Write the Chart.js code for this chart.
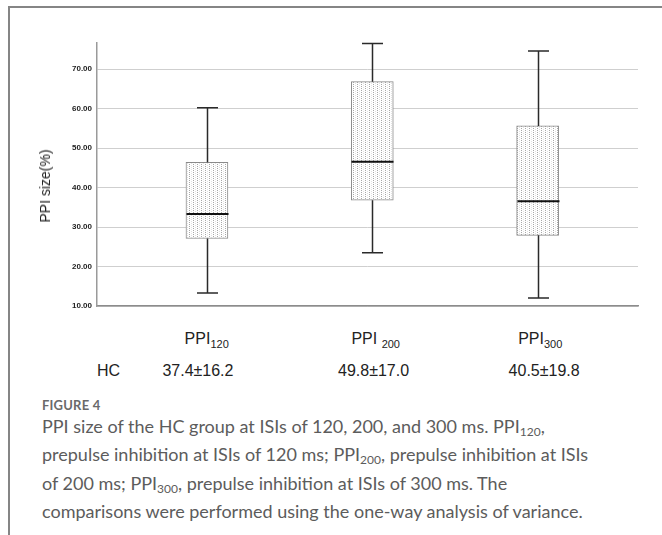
<!DOCTYPE html>
<html>
<head>
<meta charset="utf-8">
<script src="https://cdn.jsdelivr.net/npm/chart.js@4/dist/chart.umd.min.js"></script>
<style>
  html, body { margin:0; padding:0; background:#fff; }
  body { width:662px; height:535px; position:relative; overflow:hidden; }
  #frame { position:absolute; left:8px; top:6px; right:-10px; bottom:-10px; border-top:2px solid #858585; border-left:2px solid #858585; }
  #wrap { position:absolute; left:0; top:0; width:662px; height:320px; }
  .lbl { position:absolute; font-family:"Liberation Sans", Arial, sans-serif; font-size:16px; color:#222; white-space:nowrap; line-height:1; }
  .lbl sub { font-size:11px; vertical-align:baseline; position:relative; top:4px; line-height:0; }
  #ytitle { position:absolute; left:45px; top:186px; transform:translate(-50%,-50%) rotate(-90deg); font-family:"Liberation Sans", Arial, sans-serif; font-size:14px; color:#222; white-space:nowrap; }
  #figlabel { position:absolute; left:42px; top:397px; font-family:Lato, "Open Sans", sans-serif; font-weight:bold; font-size:13px; color:#6a6a6a; letter-spacing:0.2px; }
  #caption { position:absolute; left:42px; top:412px; font-family:Lato, "Open Sans", sans-serif; font-size:18px; line-height:28.3px; color:#5c5c5c; white-space:nowrap; }
  #caption sub { font-size:12px; vertical-align:baseline; position:relative; top:3px; line-height:0; }
</style>
</head>
<body>
<div id="frame"></div>
<div id="wrap"><canvas id="c" width="662" height="320"></canvas></div>
<div id="ytitle">PPI size(%)</div>
<div id="labels"></div>
<div id="figlabel">FIGURE 4</div>
<div id="caption">PPI size of the HC group at ISIs of 120, 200, and 300 ms. PPI<sub>120</sub>,<br>prepulse inhibition at ISIs of 120 ms; PPI<sub>200</sub>, prepulse inhibition at ISIs<br>of 200 ms; PPI<sub>300</sub>, prepulse inhibition at ISIs of 300 ms. The<br>comparisons were performed using the one-way analysis of variance.</div>
<script>
// ---- data ----
const categories = ['PPI120', 'PPI200', 'PPI300'];
const catBase = ['PPI', 'PPI ', 'PPI'];
const catSub = ['120', '200', '300'];
const whiskerMin = [13.3, 23.5, 12.0];
const q1 = [27.1, 36.8, 27.9];
const median = [33.3, 46.5, 36.5];
const q3 = [46.4, 66.8, 55.6];
const whiskerMax = [60.2, 76.5, 74.6];
const yTicks = [10, 20, 30, 40, 50, 60, 70];
const groupName = 'HC';
const meanSd = ['37.4±16.2', '49.8±17.0', '40.5±19.8'];

// ---- text labels below the plot ----
const labelsDiv = document.getElementById('labels');
const catX = [184.6, 351.4, 518.2];
const valX = [162.4, 338, 508.6];
categories.forEach((c, i) => {
  const d = document.createElement('div');
  d.className = 'lbl';
  d.style.left = catX[i] + 'px';
  d.style.top = '331px';
  d.innerHTML = catBase[i] + '<sub>' + catSub[i] + '</sub>';
  labelsDiv.appendChild(d);
  const v = document.createElement('div');
  v.className = 'lbl';
  v.style.left = valX[i] + 'px';
  v.style.top = '363px';
  v.textContent = meanSd[i];
  labelsDiv.appendChild(v);
});
const hc = document.createElement('div');
hc.className = 'lbl';
hc.style.left = '97px';
hc.style.top = '363px';
hc.textContent = groupName;
labelsDiv.appendChild(hc);

// ---- dotted box fill ----
function makePattern() {
  const c = document.createElement('canvas');
  c.width = 4; c.height = 2;
  const g = c.getContext('2d');
  g.fillStyle = '#ffffff'; g.fillRect(0, 0, 4, 2);
  g.fillStyle = '#a8a8a8'; g.fillRect(1, 0, 1, 1);
  g.fillStyle = '#e2e2e2'; g.fillRect(3, 1, 1, 1);
  return document.getElementById('c').getContext('2d').createPattern(c, 'repeat');
}

const BOX_W = 42;
const whiskerPlugin = {
  id: 'whiskers',
  afterDatasetsDraw(chart) {
    const { ctx, scales: { x, y } } = chart;
    ctx.save();
    categories.forEach((c, i) => {
      const cx = Math.round(x.getPixelForValue(i + 1)) + 0.5;
      const yMax = y.getPixelForValue(whiskerMax[i]);
      const yQ3 = y.getPixelForValue(q3[i]);
      const yQ1 = y.getPixelForValue(q1[i]);
      const yMin = y.getPixelForValue(whiskerMin[i]);
      const yMed = y.getPixelForValue(median[i]);
      ctx.strokeStyle = '#2a2a2a';
      ctx.lineWidth = 1.5;
      ctx.beginPath();
      ctx.moveTo(cx, yMax); ctx.lineTo(cx, yQ3);
      ctx.moveTo(cx, yQ1); ctx.lineTo(cx, yMin);
      ctx.moveTo(cx - 10.5, yMax); ctx.lineTo(cx + 10.5, yMax);
      ctx.moveTo(cx - 10.5, yMin); ctx.lineTo(cx + 10.5, yMin);
      ctx.stroke();
      ctx.strokeStyle = '#111';
      ctx.lineWidth = 2;
      ctx.beginPath();
      ctx.moveTo(cx - BOX_W / 2, yMed); ctx.lineTo(cx + BOX_W / 2, yMed);
      ctx.stroke();
    });
    ctx.restore();
  }
};

new Chart(document.getElementById('c'), {
  type: 'bar',
  data: {
    datasets: [{
      label: groupName,
      data: categories.map((c, i) => ({ x: i + 1, y: [q1[i], q3[i]] })),
      backgroundColor: makePattern(),
      borderColor: '#8a8a8a',
      borderWidth: 1,
      borderSkipped: false,
      barThickness: BOX_W
    }]
  },
  options: {
    responsive: false,
    animation: false,
    events: [],
    layout: { padding: { top: 43, right: 24, bottom: 14, left: 0 } },
    plugins: { legend: { display: false }, tooltip: { enabled: false } },
    scales: {
      x: {
        type: 'linear',
        offset: false,
        min: 0.335,
        max: 3.607,
        ticks: { display: false },
        grid: { display: true, drawOnChartArea: false, drawTicks: false, offset: false },
        border: { display: true, color: '#8c8c8c', width: 1.5 }
      },
      y: {
        type: 'linear',
        min: 10,
        max: 76.6,
        afterFit(scale) { scale.width = 97; },
        afterBuildTicks(scale) { scale.ticks = yTicks.map(v => ({ value: v })); },
        ticks: {
          padding: 5,
          color: '#222',
          font: { family: '"Liberation Sans", Arial, sans-serif', size: 8, weight: 'bold' },
          callback: v => Number(v).toFixed(2)
        },
        grid: { color: '#cfcfcf', lineWidth: 1, drawTicks: false },
        border: { display: true, color: '#9a9a9a', width: 1.5 }
      }
    }
  },
  plugins: [whiskerPlugin]
});
</script>
</body>
</html>
